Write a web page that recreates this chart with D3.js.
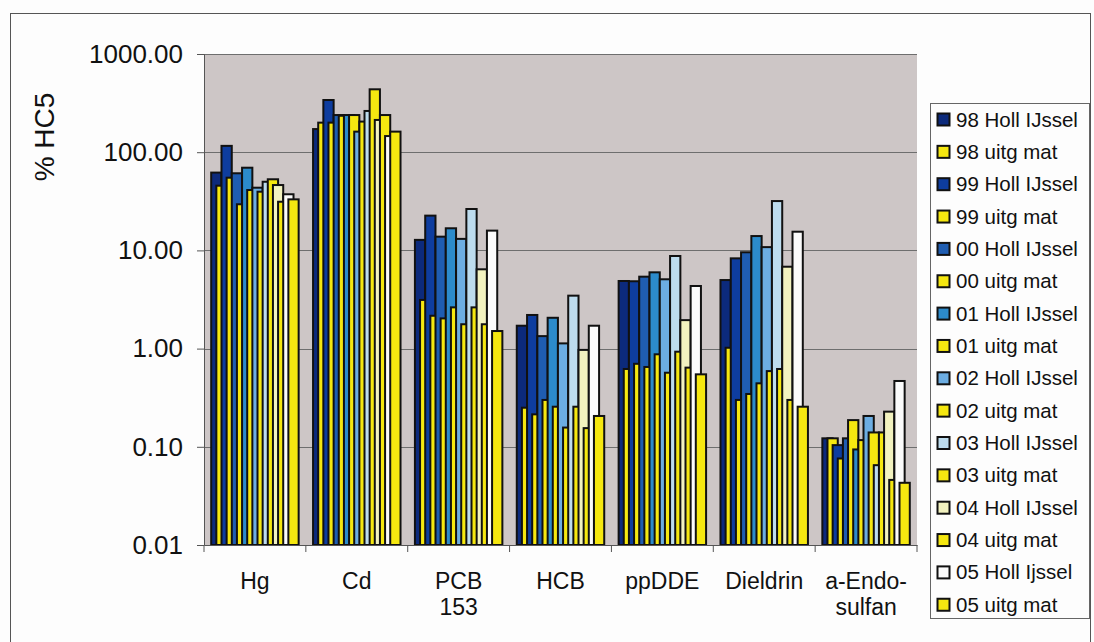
<!DOCTYPE html>
<html><head><meta charset="utf-8">
<script src="https://cdn.jsdelivr.net/npm/d3@7/dist/d3.min.js"></script>
<style>
html,body{margin:0;padding:0;background:#fdfdfd;}
text{font-family:"Liberation Sans",Arial,sans-serif;fill:#111;}
</style></head>
<body>
<svg id="chart" width="1094" height="642"></svg>
<script>
const categories = ["Hg","Cd","PCB 153","HCB","ppDDE","Dieldrin","a-Endosulfan"];
const categoryLines = [["Hg"],["Cd"],["PCB","153"],["HCB"],["ppDDE"],["Dieldrin"],["a-Endo-","sulfan"]];
const seriesNames = ["98 Holl IJssel","98 uitg mat","99 Holl IJssel","99 uitg mat","00 Holl IJssel","00 uitg mat",
  "01 Holl IJssel","01 uitg mat","02 Holl IJssel","02 uitg mat","03 Holl IJssel","03 uitg mat",
  "04 Holl IJssel","04 uitg mat","05 Holl Ijssel","05 uitg mat"];
const seriesColors = ["#0c2a7c","#f5e710","#0e3d9f","#f5e710","#1f5db1","#f5e710","#2c8bcb","#f5e710",
  "#6cade2","#f5e710","#bddcee","#f5e710","#f2f2bf","#f5e710","#fbfbfb","#f5e710"];
const yTicks = [0.01,0.1,1,10,100,1000];

const holl98 = [62, 172, 12.8, 1.71, 4.88, 4.99, 0.122];
const uitg98 = [45.6, 200, 3.13, 0.25, 0.62, 1.02, 0.122];
const holl99 = [116, 340, 22.6, 2.20, 4.85, 8.3, 0.104];
const uitg99 = [55, 200, 2.16, 0.214, 0.70, 0.30, 0.076];
const holl00 = [61, 239, 13.8, 1.34, 5.40, 9.57, 0.122];
const uitg00 = [29.5, 235, 2.03, 0.30, 0.65, 0.345, 0.187];
const holl01 = [69.5, 239, 16.8, 2.06, 5.98, 14.0, 0.094];
const uitg01 = [41.2, 239, 2.63, 0.256, 0.875, 0.443, 0.117];
const holl02 = [43.5, 162, 13.1, 1.13, 5.08, 10.8, 0.206];
const uitg02 = [39.6, 205, 1.77, 0.157, 0.568, 0.59, 0.140];
const holl03 = [50, 263, 26.4, 3.46, 8.77, 31.8, 0.065];
const uitg03 = [53, 437, 2.63, 0.256, 0.93, 0.62, 0.140];
const holl04 = [46.3, 213, 6.42, 0.97, 1.95, 6.82, 0.228];
const uitg04 = [31.3, 239, 1.77, 0.155, 0.64, 0.30, 0.046];
const holl05 = [37.3, 146, 15.9, 1.71, 4.34, 15.5, 0.468];
const uitg05 = [33.1, 162, 1.51, 0.206, 0.547, 0.256, 0.043];
const seriesValues = [holl98,uitg98,holl99,uitg99,holl00,uitg00,holl01,uitg01,holl02,uitg02,holl03,uitg03,holl04,uitg04,holl05,uitg05];

const svg = d3.select("#chart");
const plot = {left:204, right:917, top:54, bottom:545};

// outer frame
svg.append("rect").attr("x",10.5).attr("y",13.5).attr("width",1080).attr("height",650)
  .attr("fill","none").attr("stroke","#555").attr("stroke-width",1);

const x = d3.scaleBand().domain(categories).range([plot.left, plot.right]).padding(0);
const y = d3.scaleLog().domain([0.01,1000]).range([plot.bottom, plot.top]);

// plot background
svg.append("rect").attr("x",plot.left).attr("y",plot.top)
  .attr("width",plot.right-plot.left).attr("height",plot.bottom-plot.top).attr("fill","#cdc6c6");

// gridlines
svg.append("g").selectAll("line").data(yTicks.filter(t=>t>0.01)).join("line")
  .attr("x1",plot.left).attr("x2",plot.right)
  .attr("y1",d=>Math.round(y(d))+0.5).attr("y2",d=>Math.round(y(d))+0.5)
  .attr("stroke","#6e6e6e").attr("stroke-width",1);

// bars
const bw = x.bandwidth();
const w = bw/9.9;
const step = w/2;
const groupW = w + step*(seriesNames.length-1);
const gBars = svg.append("g");
seriesNames.forEach((name,i)=>{
  gBars.append("g").selectAll("rect").data(seriesValues[i].map((v,c)=>({v,c:categories[c]}))).join("rect")
    .attr("x",d=>x(d.c)+(bw-groupW)/2+i*step)
    .attr("width",w)
    .attr("y",d=>y(d.v))
    .attr("height",d=>y(0.01)-y(d.v))
    .attr("fill",seriesColors[i])
    .attr("stroke","#111").attr("stroke-width",2);
});

// y axis
const yAxis = d3.axisLeft(y).tickValues(yTicks).tickFormat(d3.format(".2f")).tickSize(7).tickPadding(14);
const gy = svg.append("g").attr("transform",`translate(${plot.left},0)`).call(yAxis);
gy.select(".domain").attr("stroke","#555");
gy.selectAll(".tick line").attr("stroke","#555");
gy.selectAll("text").attr("font-size","26px").attr("fill","#111")
  .attr("font-family","Liberation Sans, Arial, sans-serif");

// x axis
const xAxis = d3.axisBottom(x).tickSize(0).tickFormat("");
const gx = svg.append("g").attr("transform",`translate(0,${plot.bottom})`).call(xAxis);
gx.select(".domain").attr("stroke","#555");
gx.append("g").selectAll("line").data(categories.concat(["__end"])).join("line")
  .attr("x1",(d,i)=>plot.left+i*bw).attr("x2",(d,i)=>plot.left+i*bw)
  .attr("y1",0).attr("y2",7).attr("stroke","#555");
svg.append("g").selectAll("text").data(categories).join("text")
  .attr("x",d=>x(d)+bw/2).attr("y",589)
  .attr("text-anchor","middle").attr("font-size","23px")
  .each(function(d,i){
    const t=d3.select(this);
    categoryLines[i].forEach((ln,k)=>{
      t.append("tspan").attr("x",x(d)+bw/2).attr("dy",k===0?0:26).text(ln);
    });
  });

// y axis title
svg.append("text").attr("transform","translate(54,137) rotate(-90)")
  .attr("text-anchor","middle").attr("font-size","28px").text("% HC5");

// legend
const lg = svg.append("g");
lg.append("rect").attr("x",930.5).attr("y",103.5).attr("width",159).attr("height",515)
  .attr("fill","#fdfdfd").attr("stroke","#666").attr("stroke-width",1);
const items = lg.selectAll("g.item").data(seriesNames).join("g").attr("class","item")
  .attr("transform",(d,i)=>`translate(937,${119.5+i*32.35})`);
items.append("rect").attr("x",0.5).attr("y",-6).attr("width",12).attr("height",12)
  .attr("fill",(d,i)=>seriesColors[i]).attr("stroke","#111").attr("stroke-width",2);
items.append("text").attr("x",19).attr("y",7).attr("font-size","20.5px").text(d=>d);
</script>
</body></html>
